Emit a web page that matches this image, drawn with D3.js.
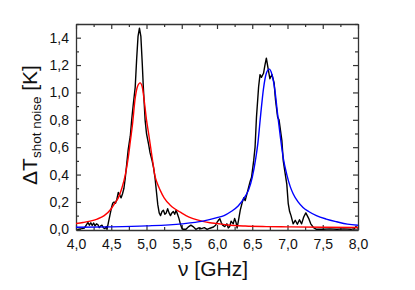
<!DOCTYPE html>
<html>
<head>
<meta charset="utf-8">
<script src="https://cdn.jsdelivr.net/npm/d3@7"></script>
<style>
  body { margin: 0; background: #fff; }
  svg text { font-family: "Liberation Sans", Arial, sans-serif; fill: #111; }
</style>
</head>
<body>
<svg id="chart" width="415" height="290"></svg>
<script>
var measFreq = [4.02,4.08,4.12,4.15,4.17,4.19,4.21,4.23,4.25,4.27,4.29,4.31,4.33,4.35,4.37,4.39,4.41,4.43,4.44,4.46,
	4.48,4.50,4.52,4.54,4.56,4.58,4.60,4.62,4.64,4.66,4.68,4.70,4.72,4.74,4.76,4.77,4.79,4.81,4.84,4.86,
	4.88,4.90,4.92,4.94,4.955,4.98,5.00,5.03,5.05,5.08,5.10,5.12,5.14,5.16,5.18,5.20,5.22,5.24,5.26,5.28,
	5.30,5.32,5.34,5.36,5.38,5.40,5.42,5.44,5.46,5.48,5.50,5.52,5.56,5.60,5.63,5.66,5.70,5.74,5.78,5.82,
	5.86,5.90,5.95,5.98,6.00,6.02,6.04,6.06,6.08,6.11,6.14,6.16,6.18,6.20,6.23,6.25,6.27,6.285,6.31,6.33,
	6.36,6.38,6.40,6.42,6.44,6.47,6.49,6.52,6.54,6.56,6.59,6.61,6.63,6.66,6.68,6.70,6.73,6.75,6.78,6.81,
	6.83,6.86,6.88,6.92,6.94,6.96,6.99,7.01,7.03,7.05,7.08,7.11,7.14,7.17,7.20,7.23,7.26,7.28,7.30,7.33,
	7.37,7.41,7.50,7.60,7.70,7.80,7.90,7.95,7.97,7.99,8.00];
var measVal = [0.00,0.005,0.01,0.035,0.05,0.03,0.048,0.028,0.046,0.025,0.04,0.035,0.012,0.025,0.03,0.01,0.005,0.02,0.0,0.05,
	0.10,0.15,0.19,0.20,0.19,0.22,0.27,0.25,0.23,0.26,0.30,0.38,0.48,0.58,0.65,0.68,0.80,0.90,1.04,1.24,
	1.41,1.47,1.41,1.21,1.04,0.80,0.70,0.62,0.56,0.50,0.45,0.38,0.28,0.18,0.12,0.10,0.13,0.14,0.11,0.12,
	0.15,0.12,0.10,0.12,0.13,0.11,0.14,0.11,0.08,0.04,0.01,0.0,0.0,0.02,0.03,0.02,0.0,0.01,0.005,0.012,
	0.0,0.008,0.017,0.03,0.05,0.066,0.078,0.05,0.03,0.02,0.04,0.01,0.02,0.06,0.04,0.08,0.05,0.01,0.08,0.14,
	0.20,0.23,0.21,0.25,0.29,0.35,0.38,0.50,0.60,0.82,1.04,1.13,1.11,1.14,1.20,1.25,1.16,1.10,1.13,1.07,
	0.945,0.82,0.80,0.65,0.50,0.43,0.33,0.19,0.13,0.10,0.04,0.066,0.037,0.07,0.04,0.09,0.12,0.10,0.08,0.04,
	0.012,0.0,0.0,0.003,0.0,0.003,0.0,0.005,0.02,0.01,0.015];

// red fit (first resonance)
var redFreq = [4.00,4.10,4.20,4.30,4.40,4.50,4.55,4.60,4.65,4.70,4.74,4.77,4.80,4.84,4.87,4.91,4.94,4.97,5.00,5.03,
	5.05,5.09,5.12,5.15,5.19,5.25,5.33,5.40,5.48,5.56,5.66,5.80,5.90,6.00,6.15,6.40,6.70,7.00,7.50,8.00];
var redVal = [0.042,0.050,0.060,0.075,0.10,0.15,0.19,0.23,0.30,0.40,0.52,0.64,0.76,0.96,1.04,1.07,1.04,0.93,0.80,0.70,
	0.63,0.49,0.39,0.34,0.29,0.23,0.18,0.15,0.125,0.10,0.078,0.058,0.048,0.042,0.032,0.024,0.020,0.018,0.015,0.013];

// blue fit (second resonance)
var blueFreq = [4.00,4.50,5.00,5.50,5.80,6.00,6.10,6.20,6.30,6.40,6.45,6.50,6.55,6.58,6.62,6.66,6.70,6.74,6.78,6.82,
	6.86,6.90,6.94,6.99,7.04,7.08,7.15,7.22,7.30,7.41,7.55,7.70,7.85,8.00];
var blueVal = [0.015,0.018,0.025,0.04,0.06,0.085,0.10,0.13,0.17,0.24,0.29,0.38,0.52,0.63,0.84,1.03,1.14,1.17,1.13,1.02,
	0.84,0.67,0.52,0.40,0.31,0.26,0.20,0.16,0.13,0.10,0.075,0.055,0.038,0.030];

var xMajor = [4.0,4.5,5.0,5.5,6.0,6.5,7.0,7.5,8.0];
var xMinor = [4.25,4.75,5.25,5.75,6.25,6.75,7.25,7.75];
var yMajor = [0.0,0.2,0.4,0.6,0.8,1.0,1.2,1.4];
var yMinor = [0.1,0.3,0.5,0.7,0.9,1.1,1.3,1.5];

// frame edges in pixels
var plotL = 76, plotR = 358, plotT = 24, plotB = 230;

var svg = d3.select("#chart");

var x = d3.scaleLinear().domain([4, 8]).range([plotL, plotR]);
var y = d3.scaleLinear().domain([-0.005, 1.5]).range([plotB, plotT]);

// comma as decimal separator
function fmt(d) { return d3.format(".1f")(d).replace(".", ","); }

function zip(a, b) {
	return a.map(function(d, i) { return [d, b[i]]; });
}

var frameColor = "#333";

// axes with inward ticks on all four sides
function styleAxis(g) {
	g.selectAll("path").attr("stroke", frameColor).attr("stroke-width", 1.3);
	g.selectAll("line").attr("stroke", frameColor).attr("stroke-width", 1.2);
}

var gx = svg.append("g").attr("transform", "translate(0," + plotB + ")")
	.call(d3.axisBottom(x).tickValues(xMajor).tickSize(-5).tickSizeOuter(0).tickPadding(9).tickFormat(fmt));
gx.call(styleAxis);
gx.selectAll("text").attr("font-size", 14).attr("fill", "#111");

svg.append("g").attr("transform", "translate(0," + plotB + ")")
	.call(d3.axisBottom(x).tickValues(xMinor).tickSize(-3).tickSizeOuter(0).tickFormat(""))
	.call(styleAxis).select("path").remove();

svg.append("g").attr("transform", "translate(0," + plotT + ")")
	.call(d3.axisTop(x).tickValues(xMajor).tickSize(-5).tickSizeOuter(0).tickFormat(""))
	.call(styleAxis);
svg.append("g").attr("transform", "translate(0," + plotT + ")")
	.call(d3.axisTop(x).tickValues(xMinor).tickSize(-3).tickSizeOuter(0).tickFormat(""))
	.call(styleAxis).select("path").remove();

var gy = svg.append("g").attr("transform", "translate(" + plotL + ",0)")
	.call(d3.axisLeft(y).tickValues(yMajor).tickSize(-5).tickSizeOuter(0).tickPadding(7).tickFormat(fmt));
gy.call(styleAxis);
gy.selectAll("text").attr("font-size", 14).attr("fill", "#111");

svg.append("g").attr("transform", "translate(" + plotL + ",0)")
	.call(d3.axisLeft(y).tickValues(yMinor).tickSize(-3).tickSizeOuter(0).tickFormat(""))
	.call(styleAxis).select("path").remove();

svg.append("g").attr("transform", "translate(" + plotR + ",0)")
	.call(d3.axisRight(y).tickValues(yMajor).tickSize(-5).tickSizeOuter(0).tickFormat(""))
	.call(styleAxis);
svg.append("g").attr("transform", "translate(" + plotR + ",0)")
	.call(d3.axisRight(y).tickValues(yMinor).tickSize(-3).tickSizeOuter(0).tickFormat(""))
	.call(styleAxis).select("path").remove();

// curves, clipped to the frame
svg.append("clipPath").attr("id", "plotArea")
	.append("rect").attr("x", plotL).attr("y", plotT).attr("width", plotR - plotL).attr("height", plotB - plotT);

var smooth = d3.line().x(function(d) { return x(d[0]); }).y(function(d) { return y(d[1]); })
	.curve(d3.curveMonotoneX);
var jagged = d3.line().x(function(d) { return x(d[0]); }).y(function(d) { return y(d[1]); });

var plot = svg.append("g").attr("clip-path", "url(#plotArea)");

plot.append("path").datum(zip(measFreq, measVal))
	.attr("d", jagged).attr("fill", "none").attr("stroke", "#000").attr("stroke-width", 1.4)
	.attr("stroke-linejoin", "round");

plot.append("path").datum(zip(redFreq, redVal))
	.attr("d", smooth).attr("fill", "none").attr("stroke", "#ff0000").attr("stroke-width", 1.4);

plot.append("path").datum(zip(blueFreq, blueVal))
	.attr("d", smooth).attr("fill", "none").attr("stroke", "#0000ff").attr("stroke-width", 1.4);

// axis titles
svg.append("text")
	.attr("x", 213).attr("y", 276)
	.attr("text-anchor", "middle")
	.attr("font-size", 21)
	.text("\u03bd [GHz]");

var yTitle = svg.append("text")
	.attr("transform", "translate(37,125) rotate(-90)")
	.attr("text-anchor", "middle")
	.attr("font-size", 21);
yTitle.append("tspan").text("\u0394T");
yTitle.append("tspan").attr("font-size", 13.5).attr("dy", 4).text("shot noise");
yTitle.append("tspan").attr("dy", -4).text(" [K]");
</script>
</body>
</html>
